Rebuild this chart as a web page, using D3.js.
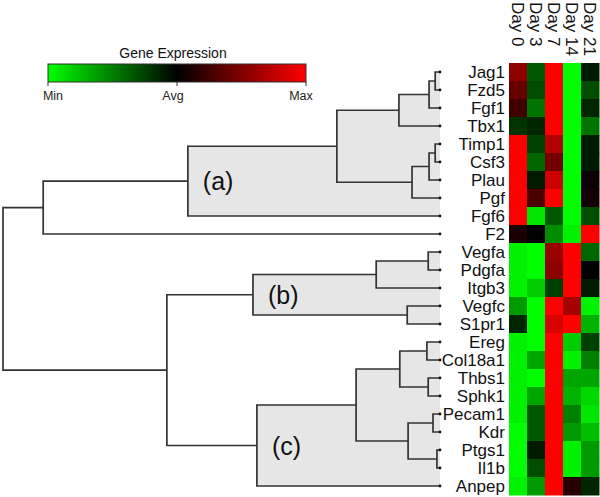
<!DOCTYPE html>
<html><head><meta charset="utf-8">
<script src="https://cdn.jsdelivr.net/npm/d3@7"></script>
<style>html,body{margin:0;padding:0;background:#fff}svg{display:block}</style>
</head><body><svg id="c" width="600" height="497"></svg>
<script>
const genes = ["Jag1","Fzd5","Fgf1","Tbx1","Timp1","Csf3","Plau","Pgf","Fgf6","F2",
  "Vegfa","Pdgfa","Itgb3","Vegfc","S1pr1","Ereg","Col18a1","Thbs1","Sphk1",
  "Pecam1","Kdr","Ptgs1","Il1b","Anpep"];
const days = ["Day 0","Day 3","Day 7","Day 14","Day 21"];
// expression relative to average: -1 = Min, 0 = Avg, 1 = Max
const day0  = [0.55,0.4,0.25,-0.2,1,1,1,1,1,0.1,-0.95,-0.95,-0.95,-0.6,-0.15,-0.95,-0.95,-0.95,-0.95,-0.95,-1,-1,-1,-0.95];
const day3  = [-0.35,-0.3,-0.45,-0.15,-0.25,-0.4,-0.1,0.3,-0.9,0,-1,-1,-0.8,-1,-1,-1,-0.65,-1,-0.65,-0.35,-0.35,-0.1,-0.3,-0.6];
const day7  = [1,1,1,1,0.7,0.45,0.8,1,-0.35,-0.55,0.6,0.55,-0.25,1,0.85,1,1,1,1,1,1,1,1,1];
const day14 = [-1,-1,-1,-1,-1,-1,-1,-1,-1,-0.95,1,1,1,0.65,1,-0.8,-0.95,-0.65,-0.7,-0.5,-0.6,-0.95,-0.95,0.15];
const day21 = [-0.1,-0.3,-0.15,-0.45,-0.1,-0.1,0.05,0.08,-0.3,1,-0.4,0,-0.1,-0.95,-0.7,-0.25,-0.5,-0.65,-0.85,-0.9,-0.75,-0.6,-0.6,-0.15];
const series = [day0, day3, day7, day14, day21];

const legendTitle = "Gene Expression";
const legendLabels = ["Min","Avg","Max"];
const legendValues = [-1, 0, 1];

// dendrogram: [mergeHeight, left, right, clusterLabel?]
const dendrogram = [100,
  [90.8,
    [57.7,
      [23.6,
        [9.4, [2.5, [1.1, "Jag1", "Fzd5"], "Fgf1"], "Tbx1"],
        [6.4, [2.5, [1.1, "Timp1", "Csf3"], "Plau"], "Pgf"]
      ],
      "Fgf6", "(a)"
    ],
    "F2"
  ],
  [62.5,
    [42.8,
      [14.6, [2.7, "Vegfa", "Pdgfa"], "Itgb3"],
      [7.5, "Vegfc", "S1pr1"],
      "(b)"
    ],
    [41.9,
      [19.2,
        [9.2, [3.0, "Ereg", "Col18a1"], [2.7, "Thbs1", "Sphk1"]],
        [7.3, [1.6, "Pecam1", "Kdr"], [0.7, "Ptgs1", "Il1b"]]
      ],
      "Anpep", "(c)"
    ]
  ]
];

const svg = d3.select("#c");
const font = "Arial, 'Liberation Sans', sans-serif";

const y = d3.scaleBand().domain(genes).range([63, 495]);
const xCol = d3.scaleBand().domain(days).range([509, 599]);
const color = d3.scaleLinear().domain([-1, 0, 1]).range(["#00ff00", "#000000", "#ff0000"]).clamp(true);
const xh = d3.scaleLinear().domain([0, 100]).range([440, 3]);

// ---- dendrogram ----
function build(n) {
  if (typeof n === "string") return { name: n, h: 0 };
  return { h: n[0], children: [build(n[1]), build(n[2])], label: n[3] };
}
const root = d3.hierarchy(build(dendrogram));
root.eachAfter(d => {
  if (!d.children) d.yy = y(d.data.name) + y.bandwidth() / 2;
  else d.yy = d3.mean(d.children, c => c.yy);
});

const gFill = svg.append("g");
const gLines = svg.append("g");
root.descendants().filter(d => d.data.label).forEach(c => {
  c.descendants().filter(d => d.children).forEach(d => {
    gFill.append("rect")
      .attr("x", xh(d.data.h)).attr("y", d.children[0].yy)
      .attr("width", xh(0) - xh(d.data.h))
      .attr("height", d.children[1].yy - d.children[0].yy)
      .attr("fill", "#e6e6e6");
  });
  gLines.append("text")
    .attr("x", xh(c.data.h) + 15).attr("y", c.yy).attr("dy", "0.36em")
    .attr("font-family", font).attr("font-size", 25).attr("fill", "#111")
    .text(c.data.label);
});

root.descendants().filter(d => d.children).forEach(d => {
  const [a, b] = d.children;
  const xn = xh(d.data.h);
  gLines.append("path")
    .attr("d", `M${xh(a.data.h)},${a.yy}H${xn}V${b.yy}H${xh(b.data.h)}`)
    .attr("fill", "none").attr("stroke", "#333").attr("stroke-width", 1.7);
});
gLines.selectAll("circle.leaf").data(root.leaves()).join("circle")
  .attr("class", "leaf").attr("cx", xh(0)).attr("cy", d => d.yy).attr("r", 1.4).attr("fill", "#111");

// ---- heatmap ----
const cells = [];
genes.forEach((g, i) => days.forEach((dy, j) => cells.push({ g, dy, v: series[j][i] })));
svg.append("g").selectAll("rect").data(cells).join("rect")
  .attr("x", d => xCol(d.dy)).attr("y", d => y(d.g))
  .attr("width", xCol.bandwidth() + 0.5).attr("height", y.bandwidth() + 0.5)
  .attr("fill", d => color(d.v));

// gene labels
svg.append("g").selectAll("text").data(genes).join("text")
  .attr("x", 505).attr("y", d => y(d) + y.bandwidth() / 2).attr("dy", "0.36em")
  .attr("text-anchor", "end").attr("font-family", font).attr("font-size", 17).attr("fill", "#111")
  .text(d => d);

// column headers
svg.append("g").selectAll("text").data(days).join("text")
  .attr("transform", d => `translate(${xCol(d) + xCol.bandwidth() / 2},2) rotate(90)`)
  .attr("dy", "0.36em").attr("font-family", font).attr("font-size", 17).attr("fill", "#111")
  .text(d => d);

// ---- legend ----
const xl = d3.scaleLinear().domain([-1, 1]).range([48, 306]);
const defs = svg.append("defs");
const grad = defs.append("linearGradient").attr("id", "lg").attr("x1", "0%").attr("x2", "100%");
legendValues.forEach(v => grad.append("stop")
  .attr("offset", ((v + 1) / 2 * 100) + "%").attr("stop-color", color(v)));
svg.append("text").attr("x", xl(0) - 4).attr("y", 58).attr("text-anchor", "middle")
  .attr("font-family", font).attr("font-size", 14).attr("fill", "#111").text(legendTitle);
svg.append("rect").attr("x", xl(-1)).attr("y", 64).attr("width", xl(1) - xl(-1)).attr("height", 18)
  .attr("fill", "url(#lg)").attr("stroke", "#333").attr("stroke-width", 1);
legendValues.forEach((v, i) => {
  svg.append("line").attr("x1", xl(v)).attr("x2", xl(v)).attr("y1", 82).attr("y2", 86)
    .attr("stroke", "#333").attr("stroke-width", 1);
  svg.append("text").attr("x", xl(v) + [5, -4, -5][i]).attr("y", 100).attr("text-anchor", "middle")
    .attr("font-family", font).attr("font-size", 12.5).attr("fill", "#222").text(legendLabels[i]);
});
</script></body></html>
